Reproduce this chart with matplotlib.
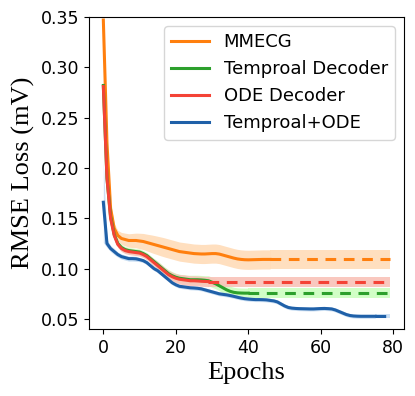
import numpy as np
import matplotlib.pyplot as plt

# loss per epoch (solid part), after the last epoch the value is held (dashed)
n_epochs = 80

mmecg = [0.347, 0.225, 0.160, 0.140, 0.133, 0.130, 0.129, 0.128, 0.128, 0.128,
         0.1275, 0.127, 0.126, 0.125, 0.124, 0.123, 0.122, 0.121, 0.120, 0.119,
         0.118, 0.117, 0.1165, 0.116, 0.1155, 0.115, 0.1148, 0.1146, 0.1146, 0.1148,
         0.115, 0.115, 0.1145, 0.1135, 0.1125, 0.1115, 0.1105, 0.1097, 0.1092, 0.1089,
         0.1088, 0.1089, 0.109, 0.1091, 0.1092, 0.1092, 0.1092]
mmecg_std = [0.004, 0.005, 0.005, 0.005, 0.005, 0.006, 0.0063, 0.0067, 0.007, 0.0073,
             0.0077, 0.008, 0.0083, 0.0087, 0.009, 0.0092, 0.0094, 0.0095, 0.0095, 0.0095,
             0.0095, 0.0095, 0.0095, 0.0095, 0.0095, 0.0095, 0.0095, 0.0095, 0.0095, 0.0095,
             0.0095, 0.0095, 0.0095, 0.0095, 0.0095, 0.0095, 0.0095, 0.0095, 0.0095, 0.0095,
             0.0095, 0.0095, 0.0095, 0.0095, 0.0095, 0.0095, 0.0095]

temporal = [0.282, 0.190, 0.152, 0.134, 0.125, 0.121, 0.119, 0.118, 0.1175, 0.117,
            0.1165, 0.115, 0.113, 0.110, 0.107, 0.104, 0.101, 0.098, 0.095, 0.093,
            0.0915, 0.0905, 0.090, 0.0895, 0.089, 0.089, 0.089, 0.0888, 0.0885, 0.088,
            0.0865, 0.085, 0.083, 0.081, 0.079, 0.0775, 0.0765, 0.076, 0.0758, 0.0757,
            0.0757]
temporal_std = [0.003, 0.003, 0.003, 0.003, 0.003, 0.003, 0.003, 0.003, 0.003, 0.003,
                0.003, 0.003, 0.003, 0.003, 0.003, 0.0035, 0.0035, 0.0035, 0.004, 0.004,
                0.004, 0.004, 0.004, 0.004, 0.0045, 0.0045, 0.0045, 0.0045, 0.0045, 0.005,
                0.005, 0.005, 0.005, 0.005, 0.005, 0.005, 0.005, 0.005, 0.005, 0.005,
                0.005]

ode = [0.281, 0.190, 0.150, 0.133, 0.124, 0.120, 0.118, 0.117, 0.1165, 0.116,
       0.1155, 0.114, 0.112, 0.109, 0.106, 0.103, 0.100, 0.097, 0.094, 0.092,
       0.0905, 0.0895, 0.089, 0.0885, 0.088, 0.088, 0.0878, 0.0875, 0.0873, 0.0872]
ode_std = [0.003, 0.003, 0.003, 0.003, 0.003, 0.003, 0.003, 0.003, 0.003, 0.003,
           0.003, 0.003, 0.0033, 0.0035, 0.0037, 0.004, 0.004, 0.004, 0.0043, 0.0045,
           0.0045, 0.0047, 0.005, 0.005, 0.005, 0.005, 0.005, 0.005, 0.005, 0.005]

combined = [0.166, 0.125, 0.120, 0.117, 0.114, 0.112, 0.111, 0.110, 0.110, 0.1098,
            0.109, 0.108, 0.106, 0.103, 0.100, 0.098, 0.095, 0.092, 0.089, 0.086,
            0.084, 0.0825, 0.082, 0.0815, 0.081, 0.0808, 0.0805, 0.080, 0.079, 0.078,
            0.077, 0.076, 0.075, 0.0745, 0.074, 0.0733, 0.0725, 0.0716, 0.0708, 0.0702,
            0.0698, 0.0695, 0.0693, 0.0693, 0.0692, 0.069, 0.0685, 0.068, 0.067, 0.065,
            0.063, 0.0615, 0.0608, 0.0605, 0.0603, 0.0602, 0.0601, 0.060, 0.060, 0.0602,
            0.0604, 0.0605, 0.0603, 0.060, 0.059, 0.0575, 0.056, 0.0545, 0.0535, 0.053,
            0.0528, 0.0527, 0.0527, 0.0527, 0.0527, 0.0527]
combined_std = [0.04, 0.004, 0.003, 0.003, 0.0025, 0.0025, 0.0025, 0.0025, 0.0025, 0.0025] + \
               [0.002] * 66

labels = ['MMECG', 'Temproal Decoder', 'ODE Decoder', 'Temproal+ODE']
series = [mmecg, temporal, ode, combined]
stds = [mmecg_std, temporal_std, ode_std, combined_std]
colors = ['#ff7f0e', '#2ca02c', '#f44336', '#1f60a8']
band_colors = ['#ffdcb8', '#ccffc0', '#f9c2b8', '#c6dcf2']

fig, ax = plt.subplots(figsize=(4.15, 3.96), dpi=100)
fig.subplots_adjust(left=0.2145, right=0.9735, bottom=0.169, top=0.957)

for y, s, c, bc, lab in zip(series, stds, colors, band_colors, labels):
    y = np.array(y)
    s = np.array(s)
    ep = np.arange(len(y))
    ax.fill_between(ep, y - s, y + s, color=bc, lw=0, alpha=0.9)
    # held value after training stopped
    ep2 = np.arange(len(y) - 1, n_epochs)
    ax.fill_between(ep2, y[-1] - s[-1], y[-1] + s[-1], color=bc, lw=0, alpha=0.9)
    ax.plot(ep, y, color=c, lw=2.2, label=lab)
    ax.plot(ep2, np.full(len(ep2), y[-1]), color=c, lw=2.2, ls=(0, (3.5, 2.5)))

ax.set_ylim(0.04, 0.35)
ax.set_xticks([0, 20, 40, 60, 80])
ax.set_yticks([0.05, 0.10, 0.15, 0.20, 0.25, 0.30, 0.35])
ax.tick_params(labelsize=12.5)
ax.set_xlabel('Epochs', family='Liberation Serif', fontsize=19)
ax.set_ylabel('RMSE Loss (mV)', family='Liberation Serif', fontsize=19)
ax.legend(loc='upper right', fontsize=13, labelspacing=0.5, handlelength=2.1)

fig.savefig('out.png')
